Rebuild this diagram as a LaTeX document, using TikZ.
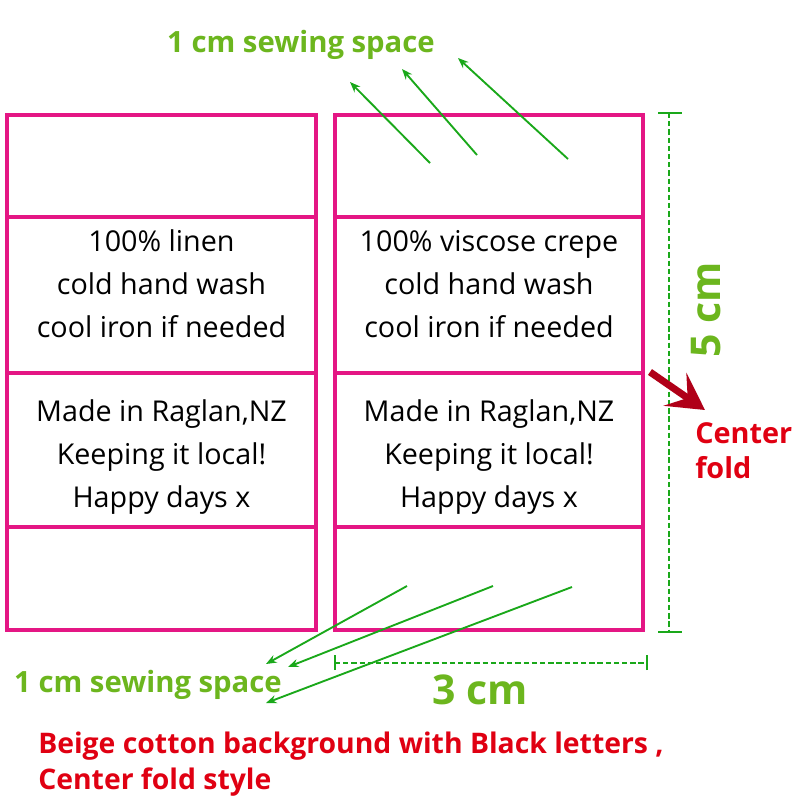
\documentclass[tikz,border=0pt]{standalone}
\usepackage{fontspec}
\setmainfont{Open Sans}
\usetikzlibrary{arrows.meta}
\definecolor{labelpink}{RGB}{228,22,132}
\definecolor{sewgreen}{RGB}{26,168,26}
\definecolor{dimgreen}{RGB}{108,182,30}
\definecolor{foldred}{RGB}{224,0,18}
\definecolor{darkfold}{RGB}{176,0,24}

\begin{document}
\begin{tikzpicture}[x=0.03cm,y=-0.03cm,>={Stealth[length=9pt,width=7pt]},
                    semithick]
  \tikzstyle{label box}=[draw=labelpink,line width=2.6pt]
  \tikzstyle{care text}=[align=center,font=\fontsize{24.5}{36.6}\selectfont]
  \tikzstyle{sew arrow}=[->,draw=sewgreen,line width=1.6pt]
  \tikzstyle{sew text}=[text=dimgreen,font=\fontsize{25}{30}\selectfont\bfseries]
  \tikzstyle{dim line}=[draw=sewgreen,line width=1.3pt]
  \tikzstyle{dim text}=[text=dimgreen,font=\fontsize{35}{40}\selectfont\bfseries]

  \useasboundingbox[fill=white] (0,0) rectangle (800,800);

  % the two labels
  \draw[label box] (7,115) rectangle (316,630);
  \draw[label box] (7,217) -- (316,217) (7,373) -- (316,373) (7,527) -- (316,527);
  \draw[label box] (335,115) rectangle (643,630);
  \draw[label box] (335,217) -- (643,217) (335,373) -- (643,373) (335,527) -- (643,527);

  \node[care text] (linen)   at (161.5,284) {100\% linen\\cold hand wash\\cool iron if needed};
  \node[care text] (made)    at (161.5,457) {Made in Raglan,NZ\\Keeping it local!\\Happy days x};
  \node[care text] (viscose) at (489,284)   {100\% viscose crepe\\cold hand wash\\cool iron if needed};
  \node[care text] (made2)   at (489,457)   {Made in Raglan,NZ\\Keeping it local!\\Happy days x};

  % sewing space
  \node[sew text] (sewtop) at (301,45)  {1 cm sewing space};
  \node[sew text] (sewbot) at (148,685) {1 cm sewing space};

  \coordinate (t1) at (430,163); \coordinate (tt1) at (350,82);
  \coordinate (t2) at (477,155); \coordinate (tt2) at (402,69);
  \coordinate (t3) at (568,159); \coordinate (tt3) at (458,58);
  \coordinate (b1) at (407,586); \coordinate (bb1) at (266,664);
  \coordinate (b2) at (493,586); \coordinate (bb2) at (288,667);
  \coordinate (b3) at (572,587); \coordinate (bb3) at (266,703);

  \path (t1) edge [sew arrow] (tt1)
        (t2) edge [sew arrow] (tt2)
        (t3) edge [sew arrow] (tt3)
        (b1) edge [sew arrow] (bb1)
        (b2) edge [sew arrow] (bb2)
        (b3) edge [sew arrow] (bb3);

  % sizes
  \coordinate (wl) at (335,663); \coordinate (wr) at (647,663);
  \coordinate (ht) at (669,113); \coordinate (hb) at (669,632);
  \draw[dim line,dash pattern=on 4.5pt off 2.5pt] (wl) -- (wr);
  \draw[dim line] ([yshift=-6]wl) -- ([yshift=7]wl) ([yshift=-6]wr) -- ([yshift=7]wr);
  \draw[dim line,dash pattern=on 4.5pt off 2.5pt] (ht) -- (hb);
  \draw[dim line] ([xshift=-9]ht) -- ([xshift=11]ht) ([xshift=-9]hb) -- ([xshift=11]hb);
  \node[dim text] (width)  at (480,690) {3 cm};
  \node[dim text,rotate=90] (height) at (706,310) {5 cm};

  % center fold
  \node[text=foldred,font=\fontsize{24.6}{30}\selectfont\bfseries,align=left,anchor=west]
       (fold) at (691,451) {Center\\fold};
  \coordinate (foldtail) at (650,372);
  \coordinate (foldtip)  at (705,410);
  \draw[darkfold,line width=6pt,-{Stealth[length=31pt,width=34pt,inset=13pt]}]
       (foldtail) -- (foldtip);

  \node[text=foldred,font=\fontsize{24.2}{30.5}\selectfont\bfseries,align=left,anchor=west]
       (note) at (34,764) {Beige cotton background with Black letters ,\\Center fold style};
\end{tikzpicture}
\end{document}
